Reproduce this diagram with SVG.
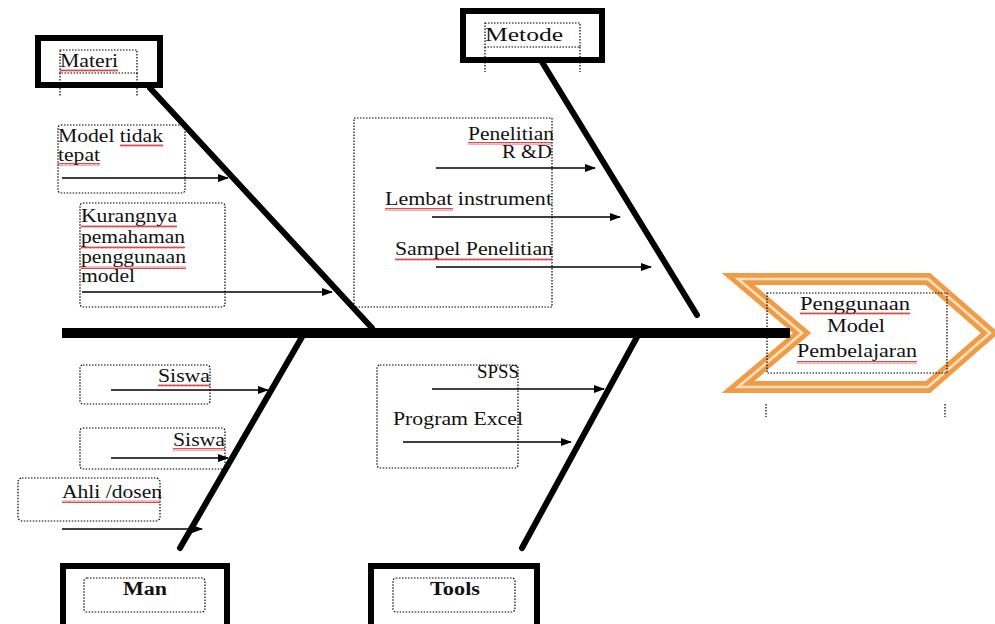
<svg xmlns="http://www.w3.org/2000/svg" width="995" height="624" viewBox="0 0 995 624">
<defs>
<marker id="ah" markerWidth="11" markerHeight="8" refX="10" refY="4" orient="auto" markerUnits="userSpaceOnUse">
<path d="M0,0 L11,4 L0,8 z" fill="#000"/>
</marker>
<pattern id="wavy" width="4" height="3" patternUnits="userSpaceOnUse">
<path d="M0,2.5 L1,0.5 L2,2.5 L3,0.5 L4,2.5" fill="none" stroke="#d02020" stroke-width="0.8"/>
</pattern>
</defs>
<style>
text{font-family:'Liberation Serif','DejaVu Serif','Times New Roman',serif;font-size:18px;fill:#111}
.b{font-weight:bold}
.thick{fill:none;stroke:#000;stroke-width:6}
.dot{fill:none;stroke:#000;stroke-width:1.2;stroke-dasharray:1.5 1.5}
.bone{stroke:#000;stroke-width:6;stroke-linecap:round;fill:none}
.arr{stroke:#000;stroke-width:1.5;fill:none;marker-end:url(#ah)}
.wv{fill:url(#wavy)}
</style>
<rect width="995" height="624" fill="#fff"/>

<g id="effect">
<polygon points="738,279 928,279 990,333 928,387 738,387 802,333" fill="#fff" stroke="#F29B45" stroke-width="12" stroke-linejoin="miter"/>
<polygon points="738,279 928,279 990,333 928,387 738,387 802,333" fill="none" stroke="#FCE3C8" stroke-width="2.5" stroke-linejoin="miter"/>
<rect class="dot" x="767" y="293" width="180" height="80"/>
<line class="dot" x1="766" y1="404" x2="766" y2="417"/>
<line class="dot" x1="945" y1="404" x2="945" y2="417"/>
<text font-family="Liberation Serif, serif" x="855" y="310" text-anchor="middle" textLength="110" lengthAdjust="spacingAndGlyphs">Penggunaan</text>
<text font-family="Liberation Serif, serif" x="856" y="332" text-anchor="middle" textLength="58" lengthAdjust="spacingAndGlyphs">Model</text>
<text font-family="Liberation Serif, serif" x="857" y="357" text-anchor="middle" textLength="120" lengthAdjust="spacingAndGlyphs">Pembelajaran</text>
<rect class="wv" x="800" y="312" width="110" height="3"/>
<rect class="wv" x="797" y="361" width="120" height="3"/>
</g>

<g id="connectors">
<line x1="62" y1="333" x2="790" y2="333" stroke="#000" stroke-width="10"/>
<line class="bone" x1="150" y1="88" x2="372" y2="328"/>
<line class="bone" x1="542" y1="62" x2="697" y2="315"/>
<line class="bone" x1="302" y1="337" x2="180" y2="548"/>
<line class="bone" x1="637" y1="337" x2="522" y2="548"/>
<line class="arr" x1="62" y1="178" x2="228" y2="178"/>
<line class="arr" x1="82" y1="292" x2="332" y2="292"/>
<line class="arr" x1="436" y1="168" x2="595" y2="168"/>
<line class="arr" x1="432" y1="217" x2="620" y2="217"/>
<line class="arr" x1="436" y1="267" x2="651" y2="267"/>
<line class="arr" x1="111" y1="390" x2="268" y2="390"/>
<line class="arr" x1="111" y1="458" x2="228" y2="458"/>
<line class="arr" x1="62" y1="529" x2="202" y2="529"/>
<line class="arr" x1="432" y1="389" x2="604" y2="389"/>
<line class="arr" x1="403" y1="442" x2="571" y2="442"/>
</g>

<g id="materi">
<rect class="thick" x="38" y="38" width="122" height="47"/>
<rect class="dot" x="60" y="50" width="77" height="23"/>
<line class="dot" x1="60" y1="73" x2="60" y2="97"/>
<line class="dot" x1="137" y1="73" x2="137" y2="97"/>
<text x="60" y="67" textLength="58" lengthAdjust="spacingAndGlyphs">Materi</text>
<rect class="wv" x="60" y="69" width="58" height="3"/>
</g>

<g id="metode">
<rect class="thick" x="463" y="11" width="139" height="49"/>
<rect class="dot" x="485" y="23" width="95" height="24"/>
<line class="dot" x1="485" y1="47" x2="485" y2="72"/>
<line class="dot" x1="580" y1="47" x2="580" y2="72"/>
<text x="485" y="41" textLength="78" lengthAdjust="spacingAndGlyphs">Metode</text>
</g>

<g id="man">
<rect class="thick" x="63" y="566" width="164" height="70"/>
<rect class="dot" x="84" y="578" width="121" height="34" rx="3"/>
<text class="b" x="145" y="595" text-anchor="middle" textLength="44" lengthAdjust="spacingAndGlyphs">Man</text>
</g>

<g id="tools">
<rect class="thick" x="371" y="566" width="166" height="70"/>
<rect class="dot" x="393" y="578" width="122" height="34" rx="3"/>
<text class="b" x="455" y="595" text-anchor="middle" textLength="50" lengthAdjust="spacingAndGlyphs">Tools</text>
</g>

<g id="cause-model-tidak-tepat">
<rect class="dot" x="58" y="125" width="127" height="68" rx="3"/>
<text x="58" y="142" textLength="105" lengthAdjust="spacingAndGlyphs">Model tidak</text>
<text x="58" y="161" textLength="42" lengthAdjust="spacingAndGlyphs">tepat</text>
<rect class="wv" x="120" y="144" width="43" height="3"/>
<rect class="wv" x="58" y="163" width="42" height="3"/>
</g>

<g id="cause-kurangnya">
<rect class="dot" x="80" y="203" width="145" height="104" rx="3"/>
<text x="81" y="222" textLength="96" lengthAdjust="spacingAndGlyphs">Kurangnya</text>
<text x="81" y="243" textLength="104" lengthAdjust="spacingAndGlyphs">pemahaman</text>
<text x="81" y="263" textLength="105" lengthAdjust="spacingAndGlyphs">penggunaan</text>
<text x="81" y="282" textLength="54" lengthAdjust="spacingAndGlyphs">model</text>
<rect class="wv" x="81" y="225" width="96" height="3"/>
<rect class="wv" x="81" y="246" width="104" height="3"/>
<rect class="wv" x="81" y="266" width="105" height="3"/>
</g>

<g id="cause-metode">
<rect class="dot" x="354" y="118" width="198" height="189"/>
<text x="554" y="140" text-anchor="end" textLength="86" lengthAdjust="spacingAndGlyphs">Penelitian</text>
<text x="552" y="158" text-anchor="end" textLength="50" lengthAdjust="spacingAndGlyphs">R &amp;D</text>
<text x="385" y="205" textLength="167" lengthAdjust="spacingAndGlyphs">Lembat instrument</text>
<text x="395" y="255" textLength="158" lengthAdjust="spacingAndGlyphs">Sampel Penelitian</text>
<rect class="wv" x="468" y="142" width="84" height="3"/>
<rect class="wv" x="385" y="208" width="68" height="3"/>
<rect class="wv" x="395" y="258" width="157" height="3"/>
</g>

<g id="cause-siswa-1">
<rect class="dot" x="80" y="365" width="130" height="39" rx="3"/>
<text x="210" y="382" text-anchor="end" textLength="52" lengthAdjust="spacingAndGlyphs">Siswa</text>
<rect class="wv" x="158" y="384" width="52" height="3"/>
</g>

<g id="cause-siswa-2">
<rect class="dot" x="80" y="428" width="145" height="41" rx="3"/>
<text x="225" y="446" text-anchor="end" textLength="52" lengthAdjust="spacingAndGlyphs">Siswa</text>
<rect class="wv" x="173" y="448" width="52" height="3"/>
</g>

<g id="cause-ahli">
<rect class="dot" x="18" y="478" width="142" height="43" rx="4"/>
<text x="62" y="498" textLength="100" lengthAdjust="spacingAndGlyphs">Ahli /dosen</text>
<rect class="wv" x="62" y="500" width="98" height="3"/>
</g>

<g id="cause-tools">
<rect class="dot" x="377" y="365" width="141" height="103" rx="3"/>
<text x="519" y="378" text-anchor="end" textLength="42" lengthAdjust="spacingAndGlyphs">SPSS</text>
<text x="393" y="425" textLength="130" lengthAdjust="spacingAndGlyphs">Program Excel</text>
</g>
</svg>
